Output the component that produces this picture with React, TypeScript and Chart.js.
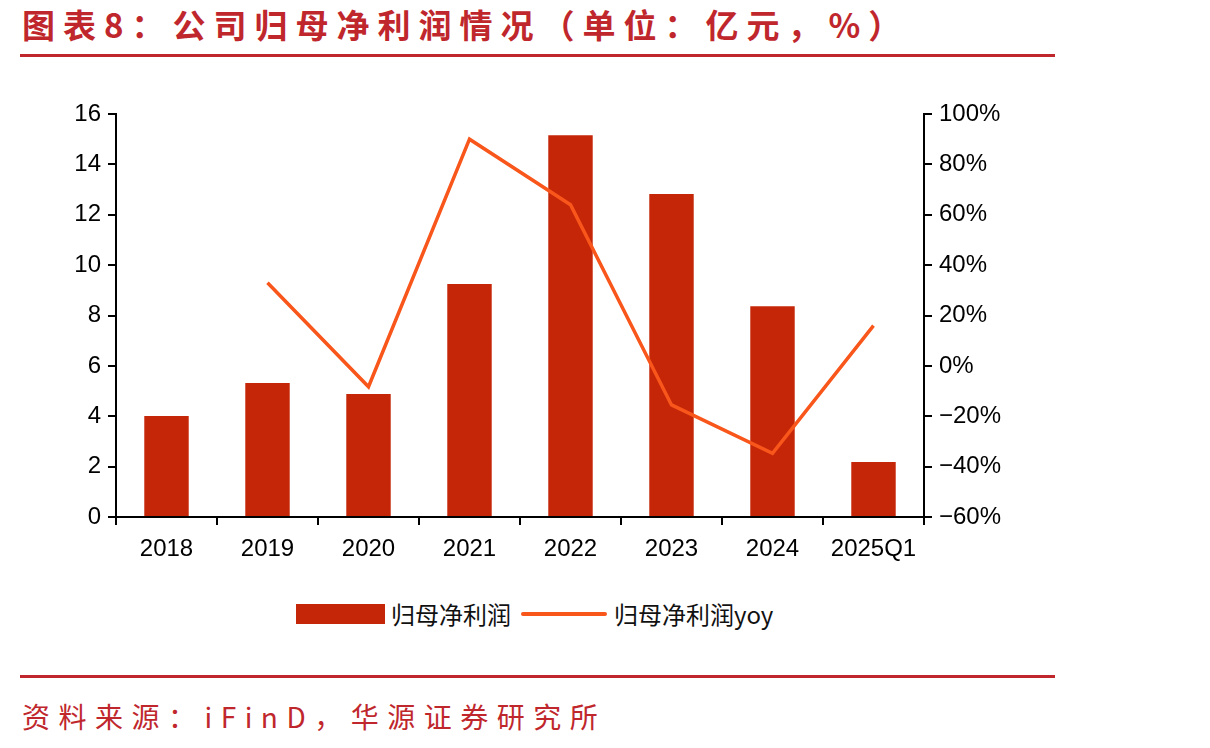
import React, { useEffect, useRef } from "react";
import { Chart, registerables } from "chart.js";

Chart.register(...registerables);

const categories = ["2018", "2019", "2020", "2021", "2022", "2023", "2024", "2025Q1"];
const netProfit = [4.01, 5.32, 4.88, 9.25, 15.16, 12.82, 8.37, 2.18];
const netProfitYoy = [null, 33, -8.3, 90, 64, -15.5, -34.7, 16];
const leftTicks = { min: 0, max: 16, step: 2 };
const rightTicks = { min: -60, max: 100, step: 20 };

const TITLE = "图表8：公司归母净利润情况（单位：亿元，%）";
const SOURCE = "资料来源：iFinD，华源证券研究所";
const SERIES_BAR = "归母净利润";
const SERIES_LINE = "归母净利润yoy";

const RED = "#C0272D";
const BAR_COLOR = "#C52608";
const LINE_COLOR = "#F8561B";
const FONT = "'Liberation Sans', Arial, sans-serif";
const CJK = "'Noto Sans CJK SC', 'Noto Sans', sans-serif";

const CANVAS_W = 1060;
const CANVAS_H = 490;
const CANVAS_TOP = 90;

export default function App() {
  const ref = useRef<HTMLCanvasElement | null>(null);

  useEffect(() => {
    if (!ref.current) return;
    const tickFont = { family: FONT, size: 24 };
    const chart = new Chart(ref.current, {
      data: {
        labels: categories,
        datasets: [
          {
            type: "line",
            label: SERIES_LINE,
            data: netProfitYoy as any,
            yAxisID: "y1",
            borderColor: LINE_COLOR,
            backgroundColor: LINE_COLOR,
            borderWidth: 3.5,
            pointRadius: 0,
            tension: 0,
            order: 0,
          },
          {
            type: "bar",
            label: SERIES_BAR,
            data: netProfit,
            yAxisID: "y",
            backgroundColor: BAR_COLOR,
            barPercentage: 0.44,
            categoryPercentage: 1,
            order: 1,
          },
        ],
      },
      options: {
        responsive: false,
        animation: false,
        layout: { padding: { top: 24, left: 0, right: 0, bottom: 0 } },
        plugins: { legend: { display: false }, tooltip: { enabled: false }, title: { display: false } },
        scales: {
          x: {
            offset: true,
            grid: {
              offset: true,
              drawOnChartArea: false,
              drawTicks: true,
              tickLength: 8,
              color: "#000",
              lineWidth: 2,
            },
            border: { display: true, color: "#000", width: 2 },
            ticks: { font: tickFont, color: "#000", padding: 10, maxRotation: 0, autoSkip: false },
            afterFit: (s: any) => {
              s.height = 63;
            },
          },
          y: {
            position: "left",
            min: leftTicks.min,
            max: leftTicks.max,
            grid: { drawOnChartArea: false, drawTicks: true, tickLength: 8, color: "#000", lineWidth: 2 },
            border: { display: true, color: "#000", width: 2 },
            ticks: { stepSize: leftTicks.step, font: tickFont, color: "#000", padding: 7 },
            afterFit: (s: any) => {
              s.width = 116;
            },
          },
          y1: {
            position: "right",
            min: rightTicks.min,
            max: rightTicks.max,
            grid: { drawOnChartArea: false, drawTicks: true, tickLength: 8, color: "#000", lineWidth: 2 },
            border: { display: true, color: "#000", width: 2 },
            ticks: {
              stepSize: rightTicks.step,
              font: tickFont,
              color: "#000",
              padding: 7,
              callback: (v: any) => (Number(v) < 0 ? "\u2212" + Math.abs(Number(v)) + "%" : v + "%"),
            },
            afterFit: (s: any) => {
              s.width = CANVAS_W - 924;
            },
          },
        },
      },
    } as any);
    return () => chart.destroy();
  }, []);

  return (
    <div style={{ position: "absolute", left: 0, top: 0, width: 1210, height: 748, background: "#fff", overflow: "hidden" }}>
      <div
        style={{
          position: "absolute",
          left: 22,
          top: 1,
          fontFamily: CJK,
          fontWeight: 700,
          fontSize: 33,
          letterSpacing: 8,
          lineHeight: "46px",
          color: RED,
          whiteSpace: "nowrap",
        }}
      >
        {TITLE}
      </div>
      <div style={{ position: "absolute", left: 20, top: 54, width: 1035, height: 3, background: RED }} />
      <canvas
        ref={ref}
        width={CANVAS_W}
        height={CANVAS_H}
        style={{ position: "absolute", left: 0, top: CANVAS_TOP, width: CANVAS_W, height: CANVAS_H }}
      />
      <div style={{ position: "absolute", left: 296, top: 604, width: 89, height: 20, background: BAR_COLOR }} />
      <div
        style={{
          position: "absolute",
          left: 391,
          top: 597,
          fontFamily: CJK,
          fontSize: 24,
          lineHeight: "34px",
          color: "#111",
          whiteSpace: "nowrap",
        }}
      >
        {SERIES_BAR}
      </div>
      <div style={{ position: "absolute", left: 521, top: 612, width: 86, height: 4, borderRadius: 2, background: LINE_COLOR }} />
      <div
        style={{
          position: "absolute",
          left: 614,
          top: 597,
          fontFamily: CJK,
          fontSize: 24,
          lineHeight: "34px",
          color: "#111",
          whiteSpace: "nowrap",
        }}
      >
        {SERIES_LINE}
      </div>
      <div style={{ position: "absolute", left: 20, top: 675, width: 1035, height: 3, background: RED }} />
      <div
        style={{
          position: "absolute",
          left: 22,
          top: 696,
          fontFamily: CJK,
          fontSize: 28,
          letterSpacing: 8.5,
          lineHeight: "40px",
          color: RED,
          whiteSpace: "nowrap",
        }}
      >
        {SOURCE}
      </div>
    </div>
  );
}
